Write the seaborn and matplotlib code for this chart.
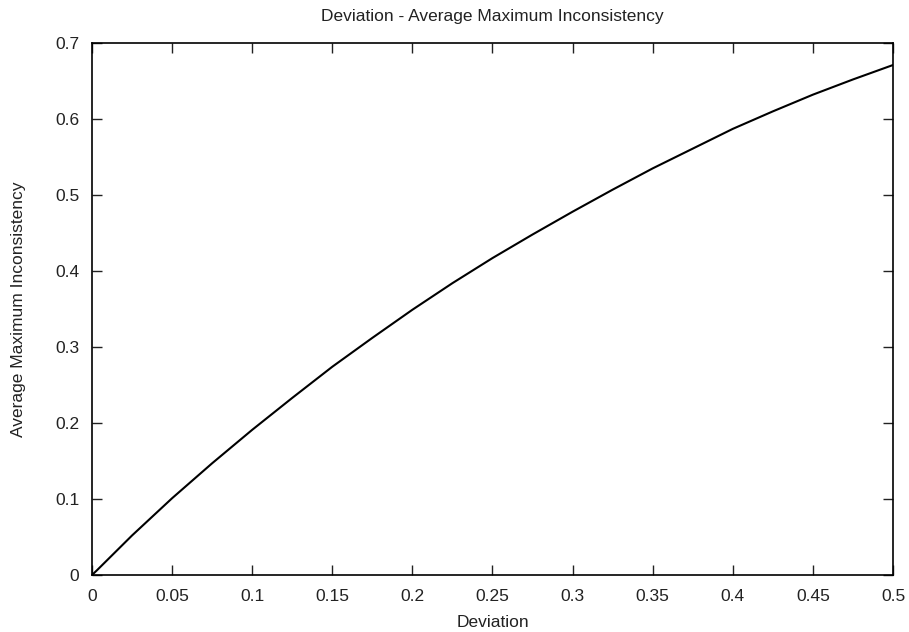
import numpy as np
import pandas as pd
import matplotlib
matplotlib.use("Agg")
import matplotlib.pyplot as plt
import seaborn as sns

# values
deviation = [0.0, 0.003, 0.025, 0.05, 0.075, 0.1, 0.125, 0.15, 0.175, 0.2, 0.225,
             0.25, 0.275, 0.3, 0.325, 0.35, 0.375, 0.4, 0.425, 0.45, 0.475, 0.5]
avg_max_inconsistency = [0.0, 0.006, 0.052, 0.101, 0.147, 0.191, 0.233, 0.274, 0.312,
                         0.349, 0.384, 0.417, 0.448, 0.478, 0.507, 0.535, 0.561, 0.587,
                         0.610, 0.632, 0.652, 0.671]

x_ticks = [0, 0.05, 0.1, 0.15, 0.2, 0.25, 0.3, 0.35, 0.4, 0.45, 0.5]
x_tick_labels = ["0", "0.05", "0.1", "0.15", "0.2", "0.25", "0.3", "0.35", "0.4", "0.45", "0.5"]
y_ticks = [0, 0.1, 0.2, 0.3, 0.4, 0.5, 0.6, 0.7]
y_tick_labels = ["0", "0.1", "0.2", "0.3", "0.4", "0.5", "0.6", "0.7"]

df = pd.DataFrame({"Deviation": deviation, "Average Maximum Inconsistency": avg_max_inconsistency})

sns.set_style("ticks")
plt.rcParams['font.family'] = ['Liberation Sans', 'DejaVu Sans']

fig = plt.figure(figsize=(9.09, 6.32), dpi=100)
ax = fig.add_axes([0.1012, 0.0902, 0.8812, 0.8418])

sns.lineplot(data=df, x="Deviation", y="Average Maximum Inconsistency",
             color="black", linewidth=1.5, ax=ax)

ax.set_xlim(0, 0.5)
ax.set_ylim(0, 0.7)
ax.set_xticks(x_ticks)
ax.set_xticklabels(x_tick_labels)
ax.set_yticks(y_ticks)
ax.set_yticklabels(y_tick_labels)
ax.tick_params(direction="in", length=7, width=1, top=True, right=True,
               labelsize=12.5, colors="#222222")
ax.tick_params(axis="x", pad=10)
ax.tick_params(axis="y", pad=9)
for s in ax.spines.values():
    s.set_visible(True)
    s.set_linewidth(1.2)
    s.set_color("black")

ax.set_title("Deviation - Average Maximum Inconsistency", fontsize=12.5, pad=16,
             color="#222222")
ax.set_xlabel("Deviation", fontsize=12.5, labelpad=8, color="#222222")
ax.set_ylabel("Average Maximum Inconsistency", fontsize=12.5, labelpad=21,
              color="#222222")

fig.savefig("out.png", dpi=100)
